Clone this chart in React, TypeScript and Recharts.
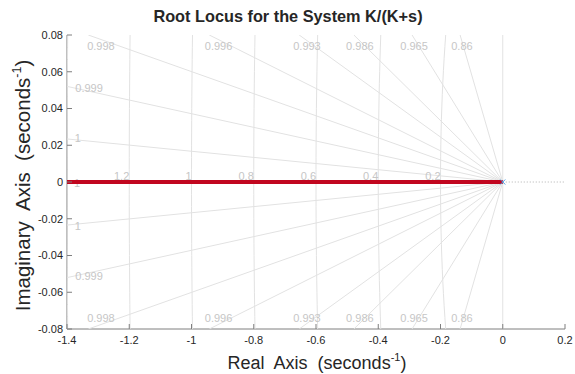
import React from 'react';
import { ComposedChart, Scatter, XAxis, YAxis } from 'recharts';

// Axis ticks
const X_TICKS = [-1.4, -1.2, -1, -0.8, -0.6, -0.4, -0.2, 0, 0.2];
const X_TICK_LABELS = ['-1.4', '-1.2', '-1', '-0.8', '-0.6', '-0.4', '-0.2', '0', '0.2'];
const Y_TICKS = [-0.08, -0.06, -0.04, -0.02, 0, 0.02, 0.04, 0.06, 0.08];
const Y_TICK_LABELS = ['-0.08', '-0.06', '-0.04', '-0.02', '0', '0.02', '0.04', '0.06', '0.08'];

const X_DOMAIN: [number, number] = [-1.4, 0.2];
const Y_DOMAIN: [number, number] = [-0.08, 0.08];

// Root locus of K/(K+s): closed-loop pole s = -K
const locusGain = [0, 0.2, 0.4, 0.6, 0.8, 1.0, 1.2, 1.4];
const locusReal = [0, -0.2, -0.4, -0.6, -0.8, -1.0, -1.2, -1.4];
const locusImag = [0, 0, 0, 0, 0, 0, 0, 0];

// Open-loop pole
const poleReal = [0];
const poleImag = [0];

// s-plane grid: natural frequency arcs
const naturalFreqs = [0.2, 0.4, 0.6, 0.8, 1.0, 1.2, 1.4];
const naturalFreqLabels = ['0.2', '0.4', '0.6', '0.8', '1', '1.2', '1.4'];

// s-plane grid: constant damping rays
const dampingRatios = [0.8636, 0.9643, 0.9863, 0.9926, 0.99642, 0.9982, 0.99931, 0.99986];
const dampingLabels = ['0.86', '0.965', '0.986', '0.993', '0.996', '0.998', '0.999', '1'];
const dampingLabelX = [-0.131, -0.285, -0.459, -0.629, -0.913, -1.291, -1.329, -1.365];
const dampingLabelY = [0.074, 0.074, 0.074, 0.074, 0.074, 0.074, 0.0514, 0.0237];
// the zeta = 1 ray lies on the real axis
const realAxisDampingLabel = { x: -1.368, y: -0.0005, label: '1' };

const FONT = '"Liberation Sans", Arial, Helvetica, sans-serif';
const AXIS_COLOR = '#7f7f7f';
const TEXT_COLOR = '#262626';
const GRID_COLOR = '#e2e2e2';
const GRID_TEXT = '#c6c6c6';
const LOCUS_COLOR = '#c1061f';
const POLE_COLOR = '#4a9be0';
const TICK_LEN = 5;

type Pt = { x: number; y: number; label?: string };

const locusData: Pt[] = locusReal.map((x, i) => ({ x, y: locusImag[i], k: locusGain[i] } as any));
const poleData: Pt[] = poleReal.map((x, i) => ({ x, y: poleImag[i] }));

// arc of |s| = wn inside the visible strip of the left half plane
const arcData = (wn: number): Pt[] => {
  const tMax = Math.asin(Math.min(1, Y_DOMAIN[1] / wn));
  const n = 24;
  const pts: Pt[] = [];
  for (let i = 0; i <= n; i++) {
    const t = -tMax + (2 * tMax * i) / n;
    pts.push({ x: -wn * Math.cos(t), y: wn * Math.sin(t) });
  }
  return pts;
};

// damping ray from the origin, cut at the border of the view
const rayData = (zeta: number, sign: number): Pt[] => {
  const slope = Math.sqrt(1 - zeta * zeta) / zeta;
  const reach = Math.min(-X_DOMAIN[0], Y_DOMAIN[1] / slope);
  return [
    { x: 0, y: 0 },
    { x: -reach, y: sign * reach * slope },
  ];
};

const wnLabelData: Pt[] = naturalFreqs.map((wn, i) => ({ x: -wn, y: 0, label: naturalFreqLabels[i] }));
const zetaLabelData: Pt[] = [
  ...dampingLabels.map((l, i) => ({ x: dampingLabelX[i], y: dampingLabelY[i], label: l })),
  ...dampingLabels.map((l, i) => ({ x: dampingLabelX[i], y: -dampingLabelY[i], label: l })),
  realAxisDampingLabel,
];

const imagAxisData: Pt[] = [{ x: 0, y: Y_DOMAIN[0] }, { x: 0, y: Y_DOMAIN[1] }];
const realAxisRight: Pt[] = [{ x: 0, y: 0 }, { x: X_DOMAIN[1], y: 0 }];

const nothing = () => <g />;

const labelOf = (labels: string[], ticks: number[], v: number) => {
  const i = ticks.findIndex((t) => Math.abs(t - v) < 1e-9);
  return i >= 0 ? labels[i] : String(v);
};

const BottomTick = (p: any) => (
  <g>
    <line x1={p.x} x2={p.x} y1={p.y} y2={p.y - TICK_LEN} stroke={AXIS_COLOR} />
    <text x={p.x} y={p.y + 15} textAnchor="middle" fontSize={11} fontFamily={FONT} fill={TEXT_COLOR}>
      {labelOf(X_TICK_LABELS, X_TICKS, p.payload.value)}
    </text>
  </g>
);
const TopTick = (p: any) => (
  <line x1={p.x} x2={p.x} y1={p.y} y2={p.y + TICK_LEN} stroke={AXIS_COLOR} />
);
const LeftTick = (p: any) => (
  <g>
    <line x1={p.x} x2={p.x + TICK_LEN} y1={p.y} y2={p.y} stroke={AXIS_COLOR} />
    <text x={p.x - 4} y={p.y} dy="0.36em" textAnchor="end" fontSize={11} fontFamily={FONT} fill={TEXT_COLOR}>
      {labelOf(Y_TICK_LABELS, Y_TICKS, p.payload.value)}
    </text>
  </g>
);
const RightTick = (p: any) => (
  <line x1={p.x} x2={p.x - TICK_LEN} y1={p.y} y2={p.y} stroke={AXIS_COLOR} />
);

const WnLabel = (p: any) => (
  <text x={p.cx} y={p.cy - 2} textAnchor="end" fontSize={11} fontFamily={FONT} fill={GRID_TEXT}>
    {p.payload?.label ?? p.label}
  </text>
);
const ZetaLabel = (p: any) => (
  <text x={p.cx} y={p.cy} dy="0.36em" textAnchor="middle" fontSize={11} fontFamily={FONT} fill={GRID_TEXT}>
    {p.payload?.label ?? p.label}
  </text>
);
const PoleMark = (p: any) => (
  <g stroke={POLE_COLOR} strokeWidth={1}>
    <line x1={p.cx - 2.5} y1={p.cy - 2.5} x2={p.cx + 2.5} y2={p.cy + 2.5} />
    <line x1={p.cx - 2.5} y1={p.cy + 2.5} x2={p.cx + 2.5} y2={p.cy - 2.5} />
  </g>
);

const gridLine = { stroke: GRID_COLOR, strokeWidth: 1 };

export default function App() {
  return (
    <div style={{ position: 'absolute', left: 0, top: 0, width: 575, height: 374, background: '#fff' }}>
      <ComposedChart width={575} height={374} margin={{ top: 35, right: 10, bottom: 0, left: 0 }}>
        <XAxis
          xAxisId={0}
          dataKey="x"
          type="number"
          domain={X_DOMAIN}
          ticks={X_TICKS}
          interval={0}
          allowDataOverflow
          height={45}
          tickSize={0}
          tickMargin={0}
          tickLine={false}
          axisLine={{ stroke: AXIS_COLOR }}
          tick={<BottomTick />}
        />
        <XAxis
          xAxisId="top"
          orientation="top"
          dataKey="x"
          type="number"
          domain={X_DOMAIN}
          ticks={X_TICKS}
          interval={0}
          allowDataOverflow
          height={0}
          tickSize={0}
          tickMargin={0}
          tickLine={false}
          axisLine={{ stroke: AXIS_COLOR }}
          tick={<TopTick />}
        />
        <YAxis
          yAxisId={0}
          dataKey="y"
          type="number"
          domain={Y_DOMAIN}
          ticks={Y_TICKS}
          interval={0}
          allowDataOverflow
          width={67}
          tickSize={0}
          tickMargin={0}
          tickLine={false}
          axisLine={{ stroke: AXIS_COLOR }}
          tick={<LeftTick />}
        />
        <YAxis
          yAxisId="right"
          orientation="right"
          dataKey="y"
          type="number"
          domain={Y_DOMAIN}
          ticks={Y_TICKS}
          interval={0}
          allowDataOverflow
          width={0}
          tickSize={0}
          tickMargin={0}
          tickLine={false}
          axisLine={{ stroke: AXIS_COLOR }}
          tick={<RightTick />}
        />

        {naturalFreqs.map((wn) => (
          <Scatter key={`wn${wn}`} data={arcData(wn)} line={gridLine} shape={nothing} isAnimationActive={false} />
        ))}
        {dampingRatios.map((z) => (
          <Scatter key={`zu${z}`} data={rayData(z, 1)} line={gridLine} shape={nothing} isAnimationActive={false} />
        ))}
        {dampingRatios.map((z) => (
          <Scatter key={`zl${z}`} data={rayData(z, -1)} line={gridLine} shape={nothing} isAnimationActive={false} />
        ))}
        <Scatter data={imagAxisData} line={gridLine} shape={nothing} isAnimationActive={false} />
        <Scatter
          data={realAxisRight}
          line={{ stroke: '#b0b0b0', strokeWidth: 1, strokeDasharray: '1 2' }}
          shape={nothing}
          isAnimationActive={false}
        />
        <Scatter data={wnLabelData} shape={<WnLabel />} isAnimationActive={false} />
        <Scatter data={zetaLabelData} shape={<ZetaLabel />} isAnimationActive={false} />

        <Scatter
          data={locusData}
          line={{ stroke: LOCUS_COLOR, strokeWidth: 4 }}
          shape={nothing}
          isAnimationActive={false}
        />
        <Scatter data={poleData} shape={<PoleMark />} isAnimationActive={false} />
      </ComposedChart>

      <svg
        width={575}
        height={374}
        style={{ position: 'absolute', left: 0, top: 0, pointerEvents: 'none' }}
        fontFamily={FONT}
      >
        <text x={288} y={21.5} textAnchor="middle" fontSize={16.3} fontWeight="bold" fill={TEXT_COLOR}>
          Root Locus for the System K/(K+s)
        </text>
        <text x={317} y={369} textAnchor="middle" fontSize={18} fill={TEXT_COLOR} style={{ whiteSpace: 'pre' }}>
          {'Real  Axis  (seconds'}
          <tspan fontSize={11} dy={-8}>-1</tspan>
          <tspan dy={8}>)</tspan>
        </text>
        <text
          transform="translate(29.5,185.5) rotate(-90)"
          x={0}
          y={0}
          textAnchor="middle"
          fontSize={20.5}
          fill={TEXT_COLOR}
          style={{ whiteSpace: 'pre' }}
        >
          {'Imaginary  Axis  (seconds'}
          <tspan fontSize={12.5} dy={-9}>-1</tspan>
          <tspan dy={9}>)</tspan>
        </text>
      </svg>
    </div>
  );
}
